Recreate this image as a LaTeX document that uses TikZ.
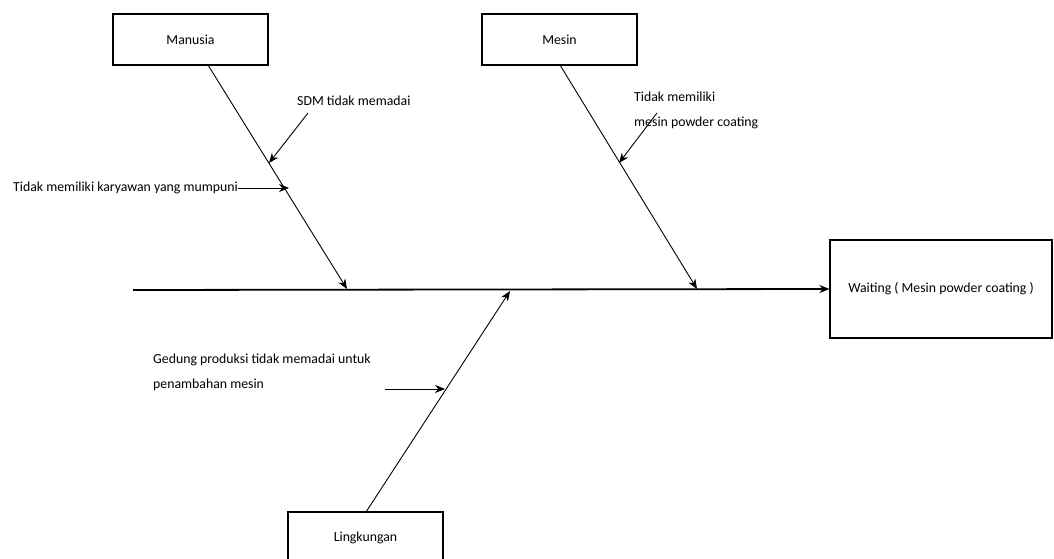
\documentclass[tikz,border=0pt]{standalone}
\usepackage{fontspec}
\setmainfont{Carlito}
\usetikzlibrary{arrows.meta,positioning}

\begin{document}
\begin{tikzpicture}[x=1pt,y=-1pt,
  cause/.style={draw,line width=1.2pt,rectangle,minimum width=155pt,minimum height=51pt,
                font=\fontsize{13.8}{16}\selectfont},
  effect/.style={draw,line width=1.2pt,rectangle,minimum width=222pt,minimum height=98pt,
                 font=\fontsize{13.8}{16}\selectfont},
  spine/.style={-{Stealth[length=10pt,width=8pt]},line width=1.8pt},
  bone/.style={-{Stealth[length=10pt,width=8pt]},line width=0.9pt},
  sub/.style={-{Stealth[length=10pt,width=8pt]},line width=0.9pt},
  lbl/.style={font=\fontsize{13.8}{25}\selectfont,align=left,inner sep=0pt}
]
  \useasboundingbox (0,0) rectangle (1054,559);

  % Boxes
  \node[cause]  (manusia)    at (190.5,39.5) {Manusia};
  \node[cause]  (mesin)      at (559.5,39.5) {Mesin};
  \node[cause]  (lingkungan) at (365.5,537.5) {Lingkungan};
  \node[effect] (waiting)    at (941,289)    {Waiting ( Mesin powder coating )};

  % Spine
  \coordinate (tail) at (133,290);
  \draw[spine] (tail) -- (waiting.west);

  % Bones
  \coordinate (mTop) at (208,65);
  \coordinate (mEnd) at (347,289);
  \coordinate (sTop) at (560,65);
  \coordinate (sEnd) at (697,289);
  \coordinate (lBot) at (366,512);
  \coordinate (lEnd) at (510,291);
  \draw[bone] (mTop) -- (mEnd);
  \draw[bone] (sTop) -- (sEnd);
  \draw[bone] (lBot) -- (lEnd);

  % Sub causes
  \node[lbl,anchor=west] (sdm) at (297,101) {SDM tidak memadai};
  \coordinate (sdmA) at (308,113);
  \coordinate (sdmB) at (269,163);
  \draw[sub] (sdmA) -- (sdmB);

  \node[lbl,anchor=west] (karyawan) at (13,188) {Tidak memiliki karyawan yang mumpuni};
  \coordinate (karB) at (289,188);
  \draw[sub] (karyawan.east) -- (karB);

  \node[lbl,anchor=north west] (tdkmesin) at (634,92) {Tidak memiliki\\mesin powder coating};
  \coordinate (tmA) at (657,113);
  \coordinate (tmB) at (619,163);
  \draw[sub] (tmA) -- (tmB);

  \node[lbl,anchor=north west] (gedung) at (153,354) {Gedung produksi tidak memadai untuk\\penambahan mesin};
  \coordinate (gdA) at (385,389);
  \coordinate (gdB) at (445,389);
  \draw[sub] (gdA) -- (gdB);
\end{tikzpicture}
\end{document}
